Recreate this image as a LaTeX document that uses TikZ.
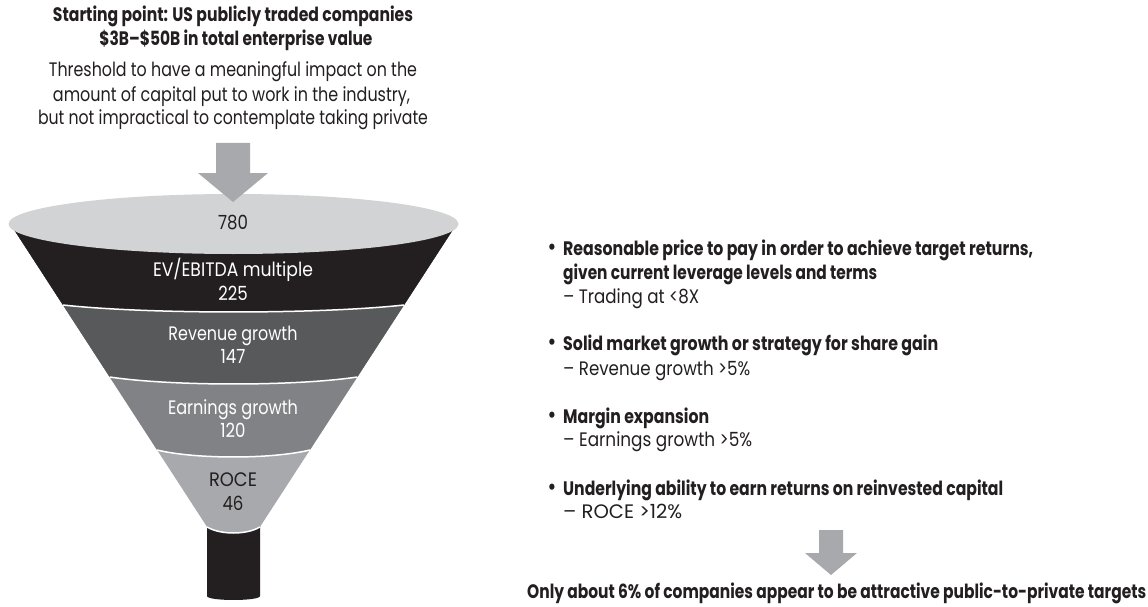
\documentclass[tikz,border=0pt]{standalone}
\usepackage{fontspec}
\setmainfont{Poppins}[FakeStretch=0.85, BoldFeatures={FakeStretch=0.75}]
\definecolor{fblack}{HTML}{231F20}
\definecolor{fdark}{HTML}{58595B}
\definecolor{fmid}{HTML}{808285}
\definecolor{flight}{HTML}{A7A9AC}
\definecolor{ftop}{HTML}{D1D3D4}
\definecolor{agray}{HTML}{A7A9AC}
\definecolor{tgray}{HTML}{231F20}
\newcommand{\fitto}[2]{\resizebox{#1}{\height}{#2}}
\tikzset{
  basetxt/.style={inner sep=0pt, text height=0.7em, text depth=0pt, text=tgray},
  titletxt/.style={basetxt, font=\fontsize{19.5}{22}\selectfont\bfseries},
  bodytxt/.style={basetxt, font=\fontsize{19.5}{22}\selectfont},
  funtxt/.style={basetxt, font=\fontsize{19.5}{22}\selectfont},
  whitetxt/.style={funtxt, text=white},
  righthead/.style={basetxt, anchor=west, font=\fontsize{19.5}{22}\selectfont\bfseries},
  rightsub/.style={basetxt, anchor=west, font=\fontsize{19.5}{22}\selectfont},
  bulletmark/.style={basetxt, font=\fontsize{25}{28}\selectfont},
  sepline/.style={draw=white, line width=1.5pt},
  blockarrow/.style={fill=agray}
}
\begin{document}
\begin{tikzpicture}[x=1pt,y=-1pt]
\useasboundingbox[fill=white] (0,0) rectangle (1148,607);
% stem
\fill[fblack] (207,520) -- (207,596) .. controls (207,601.3) and (260,601.3) .. (260,596) -- (260,520) -- cycle;
% funnel bands (drawn bottom-up)
\fill[flight] (10.4,224) -- (207.1,527) .. controls (220.3,535) and (246.7,535) .. (259.9,527) -- (456.6,224) -- cycle;
\fill[fmid] (10.4,224) -- (157.1,450) .. controls (195.3,459.3) and (271.7,459.3) .. (309.9,450) -- (456.6,224) -- cycle;
\fill[fdark] (10.4,224) -- (109.7,377) .. controls (171.6,386.3) and (295.4,386.3) .. (357.3,377) -- (456.6,224) -- cycle;
\fill[fblack] (10.4,224) -- (63,305) .. controls (148.25,314.3) and (318.75,314.3) .. (404,305) -- (456.6,224) -- cycle;
% separators
\draw[sepline] (63,305) .. controls (148.25,314.3) and (318.75,314.3) .. (404,305);
\draw[sepline] (109.7,377) .. controls (171.6,386.3) and (295.4,386.3) .. (357.3,377);
\draw[sepline] (157.1,450) .. controls (195.3,459.3) and (271.7,459.3) .. (309.9,450);
\draw[sepline] (207.1,527) .. controls (220.3,535) and (246.7,535) .. (259.9,527);
% top ellipse
\fill[ftop] (233.5,224) ellipse [x radius=225pt, y radius=30pt];
% top arrow
\fill[blockarrow] (216,143) -- (250,143) -- (250,173) -- (268,173) -- (233,202) -- (198,173) -- (216,173) -- cycle;
% title texts
\node[titletxt] (t1) at (233,18) {\fitto{360pt}{Starting point: US publicly traded companies}};
\node[titletxt] (t2) at (236,42) {\fitto{273pt}{\$3B–\$50B in total enterprise value}};
\node[bodytxt] (b1) at (233,73) {\fitto{368pt}{Threshold to have a meaningful impact on the}};
\node[bodytxt] (b2) at (231.5,98) {\fitto{357pt}{amount of capital put to work in the industry,}};
\node[bodytxt] (b3) at (233,121) {\fitto{390pt}{but not impractical to contemplate taking private}};
% funnel labels
\node[funtxt] (n780) at (233,226) {780};
\node[whitetxt] (l1) at (233,273) {\fitto{160pt}{EV/EBITDA multiple}};
\node[whitetxt] (n225) at (233,297) {225};
\node[whitetxt] (l2) at (233,337) {\fitto{129pt}{Revenue growth}};
\node[whitetxt] (n147) at (233,360) {147};
\node[whitetxt] (l3) at (233,411) {\fitto{130pt}{Earnings growth}};
\node[whitetxt] (n120) at (233,434) {120};
\node[funtxt] (l4) at (233,483) {\fitto{48pt}{ROCE}};
\node[funtxt] (n46) at (233,507) {46};
% right criteria
\node[bulletmark] (p1) at (552,252) {•};
\node[righthead] (r1) at (563,252) {\fitto{470pt}{Reasonable price to pay in order to achieve target returns,}};
\node[righthead] (r1b) at (563,276) {\fitto{314pt}{given current leverage levels and terms}};
\node[rightsub] (r1c) at (563,300) {\fitto{136pt}{– Trading at <8X}};
\node[bulletmark] (p2) at (552,347) {•};
\node[righthead] (r2) at (563,347) {\fitto{375pt}{Solid market growth or strategy for share gain}};
\node[rightsub] (r2c) at (563,372) {\fitto{187pt}{– Revenue growth >5\%}};
\node[bulletmark] (p3) at (552,420) {•};
\node[righthead] (r3) at (563,420) {\fitto{146pt}{Margin expansion}};
\node[rightsub] (r3c) at (563,443) {\fitto{189pt}{– Earnings growth >5\%}};
\node[bulletmark] (p4) at (552,492) {•};
\node[righthead] (r4) at (563,492) {\fitto{440pt}{Underlying ability to earn returns on reinvested capital}};
\node[rightsub] (r4c) at (563,515) {\fitto{119pt}{– ROCE >12\%}};
% bottom arrow
\fill[blockarrow] (819,530) -- (843,530) -- (843,553) -- (857,553) -- (831,575) -- (805,553) -- (819,553) -- cycle;
\node[righthead] (fin) at (527,595) {\fitto{619pt}{Only about 6\% of companies appear to be attractive public-to-private targets}};
\end{tikzpicture}
\end{document}
